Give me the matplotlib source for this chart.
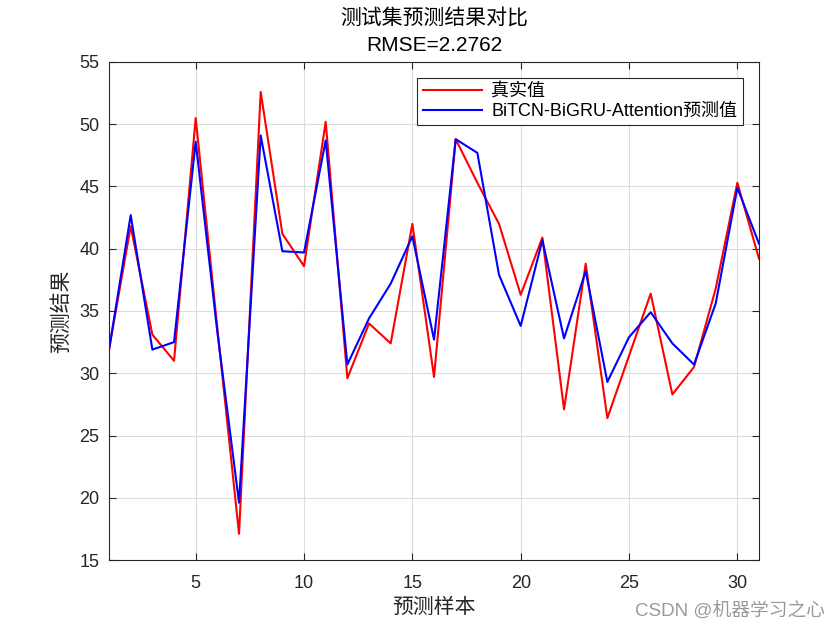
import numpy as np
import matplotlib
matplotlib.use("Agg")
from matplotlib import pyplot as plt

# Mixed Latin / Chinese text: Arial-like first, CJK fallback
plt.rcParams['font.family'] = ['Liberation Sans', 'Noto Sans CJK SC']

# Sample index and values
samples = list(range(1, 32))
true_vals = [31.9, 41.8, 33.1, 31.0, 50.5, 33.6, 17.1, 52.6, 41.2, 38.6,
             50.2, 29.6, 34.0, 32.4, 42.0, 29.7, 48.8, 45.3, 42.0, 36.3,
             40.9, 27.1, 38.8, 26.4, 31.4, 36.4, 28.3, 30.5, 36.8, 45.3,
             39.2]
pred_vals = [31.9, 42.7, 31.9, 32.5, 48.6, 33.3, 19.6, 49.1, 39.8, 39.7,
             48.7, 30.7, 34.4, 37.2, 41.0, 32.7, 48.8, 47.7, 37.9, 33.8,
             40.7, 32.8, 38.2, 29.3, 32.9, 34.9, 32.4, 30.7, 35.6, 44.9,
             40.4]
rmse_text = 'RMSE=2.2762'
x_ticks = [5, 10, 15, 20, 25, 30]
y_ticks = [15, 20, 25, 30, 35, 40, 45, 50, 55]

fig = plt.figure(figsize=(8.4, 6.3), dpi=100)
ax = fig.add_axes([0.1298, 0.1111, 0.7738, 0.7905])

ax.plot(samples, true_vals, color='red', lw=1.5, label='真实值')
ax.plot(samples, pred_vals, color='blue', lw=1.5,
        label='BiTCN-BiGRU-Attention预测值')

ax.set_xlim(1, 31)
ax.set_ylim(15, 55)
ax.set_xticks(x_ticks)
ax.set_yticks(y_ticks)
ax.tick_params(direction='in', top=True, right=True, labelsize=13,
               length=5, width=0.8, colors='#262626')
ax.tick_params(axis='x', pad=11)
ax.tick_params(axis='y', pad=7)
for s in ax.spines.values():
    s.set_color('#262626')
    s.set_linewidth(0.8)
ax.grid(True, color='#dcdcdc', lw=0.8)
ax.set_axisbelow(True)

# two-line title, placed like the MATLAB original
fig.text(0.5167, 0.9714, '测试集预测结果对比', ha='center', va='center',
         fontsize=15)
fig.text(0.5167, 0.927, rmse_text, ha='center', va='center', fontsize=15)
ax.set_xlabel('预测样本', fontsize=15, color='#262626', labelpad=4)
ax.set_ylabel('预测结果', fontsize=15, color='#262626', labelpad=6)

leg = ax.legend(loc='upper right', bbox_to_anchor=(0.975, 0.968),
                fontsize=13, handlelength=3.3, fancybox=False,
                framealpha=1, edgecolor='#262626', borderpad=0.3,
                labelspacing=0.15, handletextpad=0.5, borderaxespad=0)
leg.get_frame().set_linewidth(0.8)

fig.text(0.982, 0.016, 'CSDN @机器学习之心', ha='right', va='bottom',
         fontsize=13.5, color='#9a9a9a')

fig.savefig('out.png', dpi=100)
